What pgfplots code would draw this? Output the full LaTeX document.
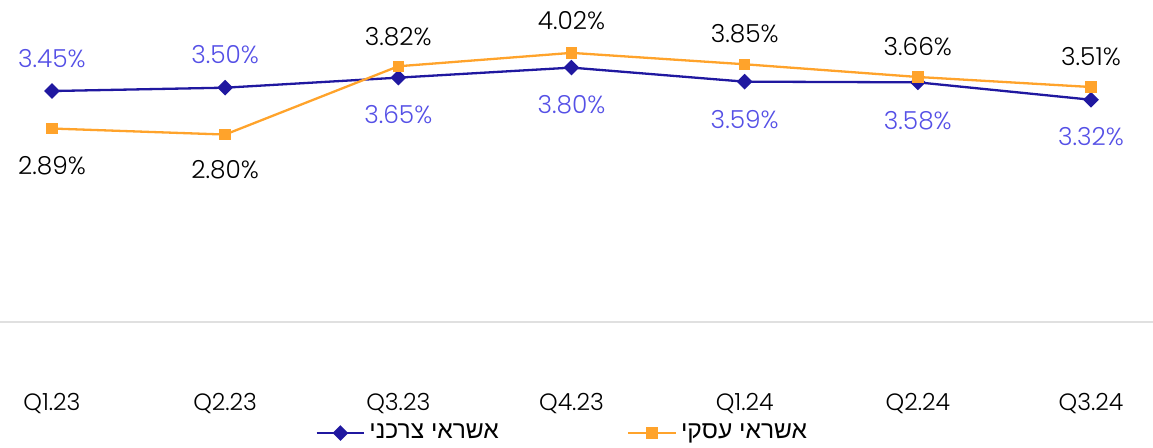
\documentclass[border=0pt]{standalone}
\usepackage{pgfplots}
\usepackage{pgfplotstable}
\pgfplotsset{compat=1.18}
\usepackage{fontspec}
\setmainfont{Poppins Light}
\newfontfamily\hebfont[Script=Hebrew]{Liberation Sans}
\TeXXeTstate=1

\definecolor{navy}{RGB}{32,24,160}
\definecolor{lblue}{RGB}{85,80,230}
\definecolor{orng}{RGB}{255,163,43}
\definecolor{gridgray}{RGB}{224,224,224}

% x = quarter index, off = label shift in pt
\pgfplotstableread{
x y off
0 3.45 16
1 3.50 16.5
2 3.65 -18.5
3 3.80 -18.5
4 3.59 -19
5 3.58 -19
6 3.32 -18.5
}\consumer
\pgfplotstableread{
x y off
0 2.89 -18.5
1 2.80 -17.5
2 3.82 15
3 4.02 16
4 3.85 15.5
5 3.66 15
6 3.51 15
}\business

\begin{document}
\begin{tikzpicture}
\begin{axis}[
    scale only axis,
    width=576.5pt, height=161pt,
    xmin=-0.30, xmax=6.358,
    ymin=0, ymax=4.81,
    clip=false,
    axis line style={draw=none},
    xtick={0,...,6},
    xticklabels={Q1.23,Q2.23,Q3.23,Q4.23,Q1.24,Q2.24,Q3.24},
    xticklabel style={font=\fontsize{11.8}{13}\selectfont, text=black, anchor=north, yshift=-32pt},
    ytick={0}, yticklabels={},
    ymajorgrids,
    grid style={gridgray, line width=1pt},
    major tick length=0pt,
    legend columns=2,
    legend style={draw=none, at={(rel axis cs:0.4885,-0.345)}, anchor=center,
        font=\fontsize{12.3}{14}\selectfont, text=black,
        /tikz/every even column/.append style={column sep=62pt}},
    legend image code/.code={\draw[mark repeat=2,mark phase=2] plot coordinates {(0cm,0cm) (0.42cm,0cm) (0.84cm,0cm)};},
    visualization depends on={\thisrow{off} \as \labeloff},
    nodes near coords={\pgfmathprintnumber[fixed,fixed zerofill,precision=2,assume math mode=true]{\pgfplotspointmeta}\%},
    every node near coord/.append style={anchor=center, yshift=\labeloff pt, font=\fontsize{12.4}{14}\selectfont},
]
\addplot[navy, line width=1.15pt, mark=square*, mark size=2.2pt, mark options={rotate=45},
    every node near coord/.append style={text=lblue}] table[x=x, y=y] {\consumer};
\addlegendentry{\hebfont\beginR אשראי צרכני\endR}
\addplot[orng, line width=1.15pt, mark=square*, mark size=2.3pt,
    every node near coord/.append style={text=black}] table[x=x, y=y] {\business};
\addlegendentry{\hebfont\beginR אשראי עסקי\endR}
\end{axis}
\pgfresetboundingbox
\path (0,-63pt) rectangle (576.5pt,161pt);
\end{tikzpicture}
\end{document}
